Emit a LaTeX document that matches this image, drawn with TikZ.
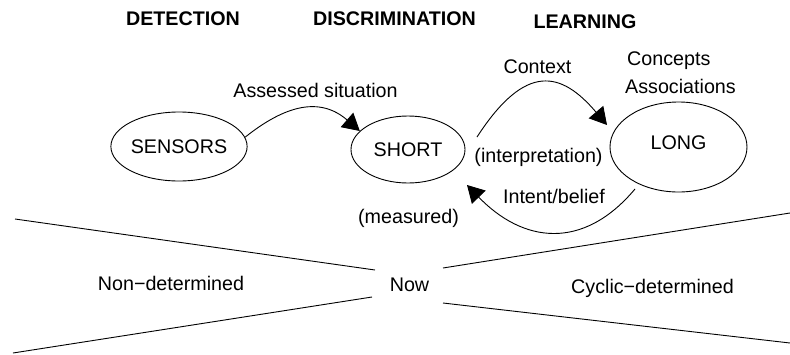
\documentclass[tikz,border=0pt]{standalone}
\usepackage{fontspec}
\setmainfont{Liberation Sans}
\usetikzlibrary{shapes.geometric,arrows.meta}
\begin{document}
\begin{tikzpicture}[x=1pt,y=-1pt,
  every node/.style={font=\fontsize{19.7}{23}\selectfont, inner sep=0pt},
  hdr/.style={font=\fontsize{19.7}{23}\selectfont\bfseries, anchor=base},
  lbl/.style={anchor=base},
  mem/.style={draw, ellipse, line width=0.9pt, inner sep=0pt},
  conn/.style={line width=0.9pt, -{Triangle[length=17pt,width=19pt]}},
  bound/.style={line width=0.9pt}]
\useasboundingbox (0,0) rectangle (790,354);
% headers
\node[hdr] (det) at (183,25) {DETECTION};
\node[hdr] (dis) at (394.5,25) {DISCRIMINATION};
\node[hdr] (lea) at (585,28) {LEARNING};
% memories
\node[mem, minimum width=136pt, minimum height=69pt] (sensors) at (179,146.5) {SENSORS};
\node[mem, minimum width=114pt, minimum height=67pt] (short) at (408,149.5) {SHORT};
\node[mem, minimum width=137pt, minimum height=90pt, text depth=8pt] (long) at (678.5,147) {LONG};
% labels
\node[lbl] (assessed) at (315.5,97) {Assessed situation};
\node[lbl] (context) at (537.5,73) {Context};
\node[lbl, anchor=base west] (concepts) at (627,65) {Concepts};
\node[lbl, anchor=base west] (assoc) at (625,93) {Associations};
\node[lbl] (interp) at (538.5,162) {(interpretation)};
\node[lbl] (measured) at (408.5,223) {(measured)};
\node[lbl] (intent) at (554,203) {Intent/belief};
\node[lbl] (now) at (409.5,291) {Now};
\node[lbl] (nondet) at (171,290) {Non−determined};
\node[lbl] (cyclic) at (652.5,293) {Cyclic−determined};
% connector ends
\coordinate (ctxstart) at (477,137);
\coordinate (ctxend) at (607,125);
\coordinate (intstart) at (635,189);
\coordinate (intend) at (467,185);
% connectors
\draw[conn] (sensors.8) .. controls (285.5,105) and (320,96.5) .. (short.159);
\draw[conn] (ctxstart) .. controls (526,61.5) and (561.6,71.7) .. (ctxend);
\draw[conn] (intstart) .. controls (583,251) and (523,243) .. (intend);
% time boundaries
\coordinate (lu1) at (15,219);
\coordinate (lu2) at (375,270);
\coordinate (ll1) at (13,353);
\coordinate (ll2) at (372,297);
\coordinate (ru1) at (443,268);
\coordinate (ru2) at (790,213);
\coordinate (rl1) at (443,303);
\coordinate (rl2) at (790,343);
\draw[bound] (lu1) -- (lu2);
\draw[bound] (ll1) -- (ll2);
\draw[bound] (ru1) -- (ru2);
\draw[bound] (rl1) -- (rl2);
\end{tikzpicture}
\end{document}
